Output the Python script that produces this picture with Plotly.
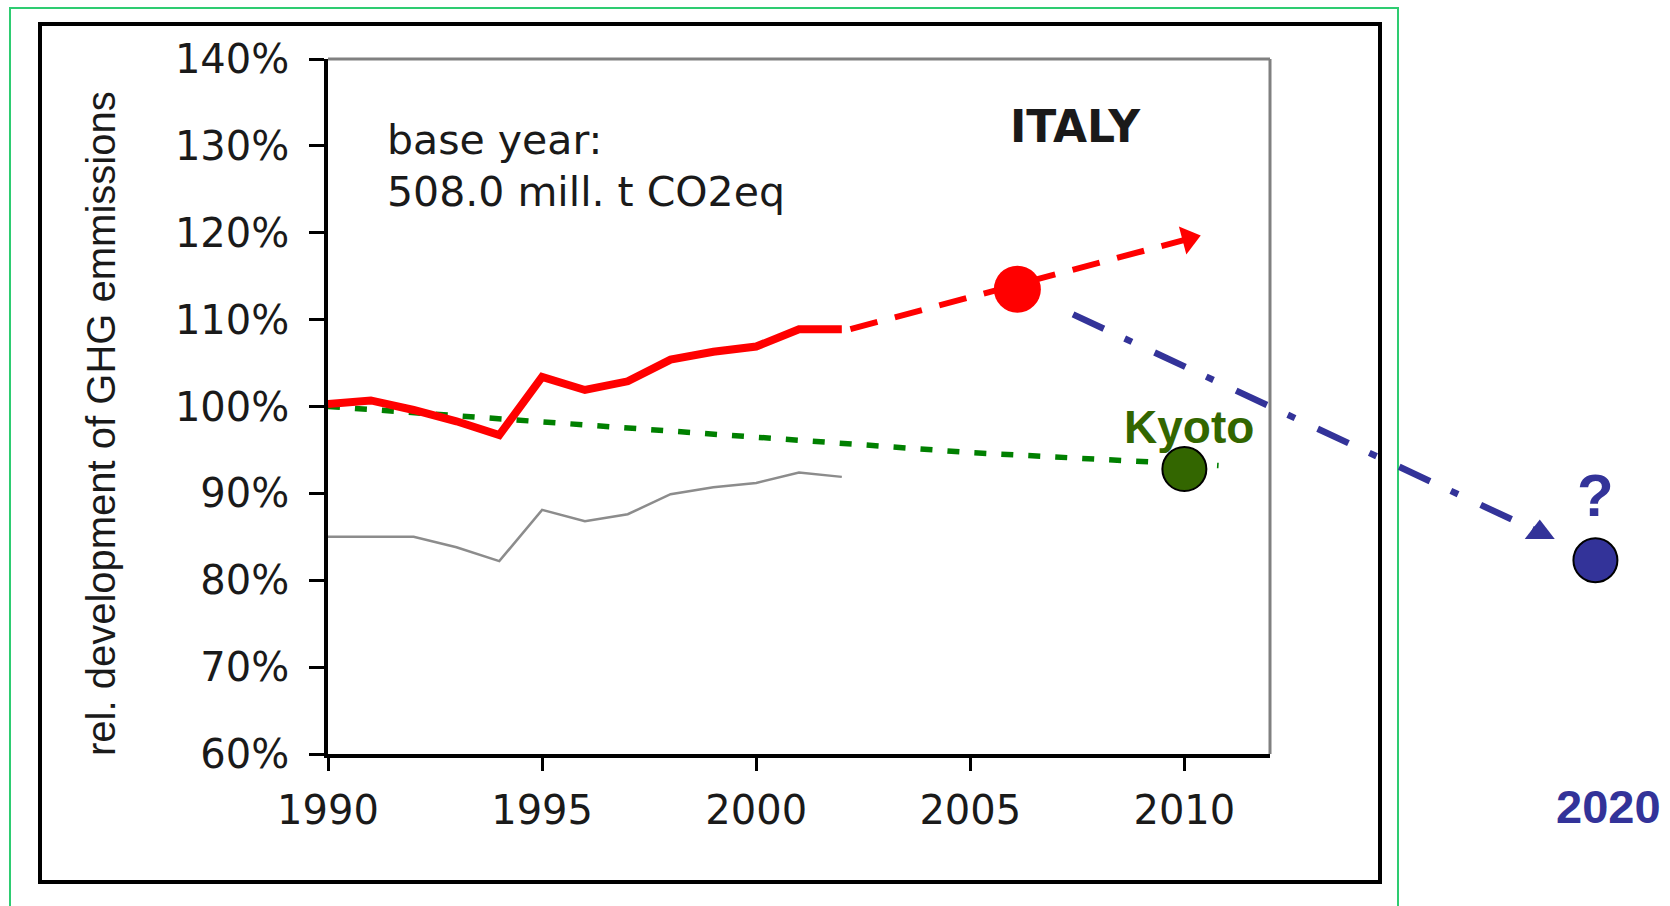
import math
import plotly.graph_objects as go

# ---------------- data ----------------
years_hist = [1990, 1991, 1992, 1993, 1994, 1995, 1996, 1997, 1998, 1999, 2000, 2001, 2002]
ghg_italy = [100.3, 100.7, 99.6, 98.3, 96.7, 103.4, 101.9, 102.9, 105.4, 106.3, 106.9, 108.9, 108.9]
ghg_grey = [85.0, 85.0, 85.0, 83.8, 82.2, 88.1, 86.8, 87.6, 89.9, 90.7, 91.2, 92.4, 91.9]

kyoto_years = [1990, 1995, 2000, 2005, 2010.8]
kyoto_path = [100.0, 98.2, 96.4, 94.7, 93.2]

trend_years = [2002.2, 2010.1]
trend_vals = [108.9, 119.3]
recent_year, recent_val = 2006.1, 113.5

kyoto_point_year, kyoto_point_val = 2010.0, 92.8

future_years = [2007.4, 2018.3]
future_vals = [110.6, 85.5]
target_year, target_val = 2019.6, 82.3

x_ticks = [1990, 1995, 2000, 2005, 2010]
y_ticks = [60, 70, 80, 90, 100, 110, 120, 130, 140]
y_tick_text = [f"{v}%" for v in y_ticks]

# ---------------- layout geometry (pixels) ----------------
W, H = 1670, 906
PX_L, PX_R = 328, 1270      # plot area left/right
PX_T, PX_B = 59, 754        # plot area top/bottom
X_MIN, X_MAX = 1990, 2012
Y_MIN, Y_MAX = 60, 140

ppx = (PX_R - PX_L) / (X_MAX - X_MIN)
ppy = (PX_B - PX_T) / (Y_MAX - Y_MIN)
x2_range = [X_MIN - PX_L / ppx, X_MIN + (W - PX_L) / ppx]
y2_range = [Y_MIN - (H - PX_B) / ppy, Y_MAX + PX_T / ppy]


def px(x):
    return x / W


def py(y):
    return 1 - y / H


RED = "#FF0000"
BLUE = "#333399"
GREEN = "#008000"
KGREEN = "#336600"
TXT = "#1a1a1a"
TICKFONT = dict(family="DejaVu Sans", size=40, color=TXT)

# direction of the red trend arrow in screen space (degrees clockwise from "up")
dxp = (trend_years[1] - trend_years[0]) * ppx
dyp = (trend_vals[1] - trend_vals[0]) * ppy
red_arrow_angle = 90 - math.degrees(math.atan2(dyp, dxp))

fig = go.Figure()

# historical lines on main axes
fig.add_trace(go.Scatter(x=years_hist, y=ghg_grey, mode="lines",
                         line=dict(color="#8c8c8c", width=2.5), hoverinfo="skip", showlegend=False))
fig.add_trace(go.Scatter(x=kyoto_years, y=kyoto_path, mode="lines",
                         line=dict(color=GREEN, width=5.5, dash="12px,15px"), hoverinfo="skip", showlegend=False))
fig.add_trace(go.Scatter(x=years_hist, y=ghg_italy, mode="lines",
                         line=dict(color=RED, width=8), hoverinfo="skip", showlegend=False))

# projections on full-figure overlay axes
fig.add_trace(go.Scatter(x=trend_years, y=trend_vals, mode="lines", xaxis="x2", yaxis="y2",
                         line=dict(color=RED, width=6, dash="28px,18px"),
                         hoverinfo="skip", showlegend=False))
fig.add_trace(go.Scatter(x=trend_years[-1:], y=trend_vals[-1:], mode="markers", xaxis="x2", yaxis="y2",
                         marker=dict(symbol="triangle-up", size=25, color=RED, angle=red_arrow_angle,
                                     opacity=1, line=dict(width=0)),
                         hoverinfo="skip", showlegend=False))
fig.add_trace(go.Scatter(x=future_years, y=future_vals, mode="lines", xaxis="x2", yaxis="y2",
                         line=dict(color=BLUE, width=6.5, dash="34px,23px,8px,25px"),
                         hoverinfo="skip", showlegend=False))
fig.add_trace(go.Scatter(x=future_years[-1:], y=future_vals[-1:], mode="markers", xaxis="x2", yaxis="y2",
                         marker=dict(symbol="triangle-up", size=26, color=BLUE, line=dict(width=0)),
                         hoverinfo="skip", showlegend=False))
fig.add_trace(go.Scatter(x=[recent_year], y=[recent_val], mode="markers", xaxis="x2", yaxis="y2",
                         marker=dict(size=47, color=RED, line=dict(width=0)),
                         hoverinfo="skip", showlegend=False))
fig.add_trace(go.Scatter(x=[kyoto_point_year], y=[kyoto_point_val], mode="markers", xaxis="x2", yaxis="y2",
                         marker=dict(size=44, color=KGREEN, line=dict(width=2, color="black")),
                         hoverinfo="skip", showlegend=False))
fig.add_trace(go.Scatter(x=[target_year], y=[target_val], mode="markers", xaxis="x2", yaxis="y2",
                         marker=dict(size=44, color=BLUE, line=dict(width=2, color="black")),
                         hoverinfo="skip", showlegend=False))

shapes = [
    # outer green frame
    dict(type="rect", xref="paper", yref="paper", x0=px(10), x1=px(1398), y0=py(920), y1=py(8),
         line=dict(color="#2ECC71", width=2), layer="below"),
    # black inner frame
    dict(type="rect", xref="paper", yref="paper", x0=px(40), x1=px(1380), y0=py(882), y1=py(24),
         line=dict(color="black", width=4), layer="below"),
    # grey top and right plot borders
    dict(type="line", xref="paper", yref="paper", x0=px(PX_L), x1=px(PX_R), y0=py(PX_T), y1=py(PX_T),
         line=dict(color="#808080", width=3), layer="below"),
    dict(type="line", xref="paper", yref="paper", x0=px(PX_R), x1=px(PX_R), y0=py(PX_T), y1=py(PX_B),
         line=dict(color="#808080", width=3), layer="below"),
]

annotations = [
    dict(text="rel. development of GHG emmissions", xref="paper", yref="paper", x=px(101), y=py(424),
         textangle=-90, showarrow=False, xanchor="center", yanchor="middle",
         font=dict(family="Liberation Sans", size=40, color=TXT)),
    dict(text="base year:", xref="paper", yref="paper", x=px(385), y=py(140), showarrow=False,
         xanchor="left", yanchor="middle", font=dict(family="DejaVu Sans", size=41, color=TXT)),
    dict(text="508.0 mill. t CO2eq", xref="paper", yref="paper", x=px(385), y=py(192), showarrow=False,
         xanchor="left", yanchor="middle", font=dict(family="DejaVu Sans", size=41, color=TXT)),
    dict(text="<b>ITALY</b>", xref="paper", yref="paper", x=px(1075), y=py(126), showarrow=False,
         xanchor="center", yanchor="middle", font=dict(family="DejaVu Sans", size=44, color=TXT)),
    dict(text="<b>Kyoto</b>", xref="x2", yref="y2", x=kyoto_point_year + 0.1, y=kyoto_point_val + 4.8,
         showarrow=False, xanchor="center", yanchor="middle",
         font=dict(family="Liberation Sans", size=46, color=KGREEN)),
    dict(text="<b>?</b>", xref="x2", yref="y2", x=target_year, y=target_val + 7.5, showarrow=False,
         xanchor="center", yanchor="middle", font=dict(family="Liberation Sans", size=60, color=BLUE)),
    dict(text="<b>2020</b>", xref="x2", yref="y2", x=2019.9, y=54.0, showarrow=False,
         xanchor="center", yanchor="middle", font=dict(family="Liberation Sans", size=47, color=BLUE)),
]

fig.update_layout(
    width=W, height=H,
    margin=dict(l=0, r=0, t=0, b=0, pad=0, autoexpand=False),
    paper_bgcolor="white",
    plot_bgcolor="rgba(0,0,0,0)",
    showlegend=False,
    shapes=shapes,
    annotations=annotations,
    xaxis=dict(domain=[px(PX_L), px(PX_R)], range=[X_MIN, X_MAX], tickvals=x_ticks,
               showline=True, linecolor="black", linewidth=3.5, ticks="outside", ticklen=13,
               tickwidth=3, tickcolor="black", showgrid=False, zeroline=False, automargin=False,
               tickfont=TICKFONT, ticklabelstandoff=5, anchor="y", fixedrange=True),
    yaxis=dict(domain=[py(PX_B), py(PX_T)], range=[Y_MIN, Y_MAX], tickvals=y_ticks, ticktext=y_tick_text,
               showline=True, linecolor="black", linewidth=3.5, ticks="outside", ticklen=15,
               tickwidth=3, tickcolor="black", showgrid=False, zeroline=False, automargin=False,
               tickfont=TICKFONT, ticklabelstandoff=12, anchor="x", fixedrange=True),
    xaxis2=dict(domain=[0, 1], range=x2_range, visible=False, anchor="y2", fixedrange=True, automargin=False),
    yaxis2=dict(domain=[0, 1], range=y2_range, visible=False, anchor="x2", fixedrange=True, automargin=False),
)

fig.write_html("out.html", config={"displayModeBar": False},
               post_script="document.body.style.margin='0px';document.body.style.overflow='hidden';")
